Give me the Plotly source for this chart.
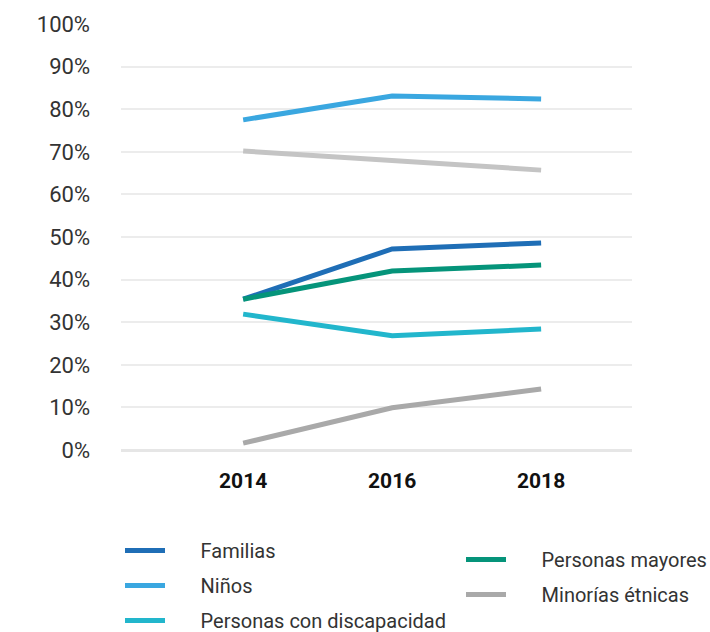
import plotly.graph_objects as go

years = ["2014", "2016", "2018"]

familias = [35.4, 47.2, 48.6]
ninos = [77.5, 83.1, 82.4]
discapacidad = [31.9, 26.8, 28.4]
mayores = [35.4, 42.0, 43.4]
minorias = [1.6, 9.9, 14.3]
otros = [70.2, 68.0, 65.7]

y_ticks = list(range(0, 101, 10))
y_tick_text = [f"{v}%" for v in y_ticks]

FONT = "Roboto, Open Sans, sans-serif"
GAP = "\u2003\u2002"  # spacing between legend symbol and label

fig = go.Figure()

# unlabeled light-grey series
fig.add_trace(go.Scatter(x=years, y=otros, mode="lines", name="",
                         line=dict(color="#c4c4c4", width=5), showlegend=False))

series = [
    ("Familias", familias, "#1f6eb6", "legend"),
    ("Niños", ninos, "#3aa7e0", "legend"),
    ("Personas con discapacidad", discapacidad, "#22b6cc", "legend"),
    ("Personas mayores", mayores, "#05947a", "legend2"),
    ("Minorías étnicas", minorias, "#a9a9a9", "legend2"),
]
for name, vals, color, leg in series:
    fig.add_trace(go.Scatter(x=years, y=vals, mode="lines", name=GAP + name,
                             legendgroup=name,
                             line=dict(color=color, width=5), legend=leg))

legend_style = dict(
    orientation="v",
    font=dict(family=FONT, size=20, color="#333333"),
    bgcolor="rgba(0,0,0,0)",
    xanchor="left", yanchor="top",
    itemwidth=40,
    tracegroupgap=6,
)

fig.update_layout(
    width=710, height=632,
    margin=dict(l=121, r=78, t=24, b=182, autoexpand=False),
    paper_bgcolor="white", plot_bgcolor="white",
    font=dict(family=FONT, size=18, color="#333333"),
    xaxis=dict(type="category", range=[-0.82, 2.61], showgrid=False,
               showline=False, zeroline=False, ticks="", automargin=False,
               tickangle=0,
               tickfont=dict(family=FONT, size=21, color="#111111", weight="bold"),
               ticklabelstandoff=16),
    yaxis=dict(range=[0, 100], tickvals=y_ticks, ticktext=y_tick_text,
               showgrid=True, gridcolor="#ececec", gridwidth=1.5,
               zeroline=True, zerolinecolor="#e6e6e6", zerolinewidth=3,
               showline=False, ticks="", automargin=False,
               tickfont=dict(family=FONT, size=22, color="#333333"),
               ticklabelstandoff=30),
    legend=dict(**legend_style, x=(120 - 121) / 511, y=(450 - 531) / 426),
    legend2=dict(**legend_style, x=(461 - 121) / 511, y=(450 - 540) / 426),
    showlegend=True,
)

fig.write_html("out.html")
